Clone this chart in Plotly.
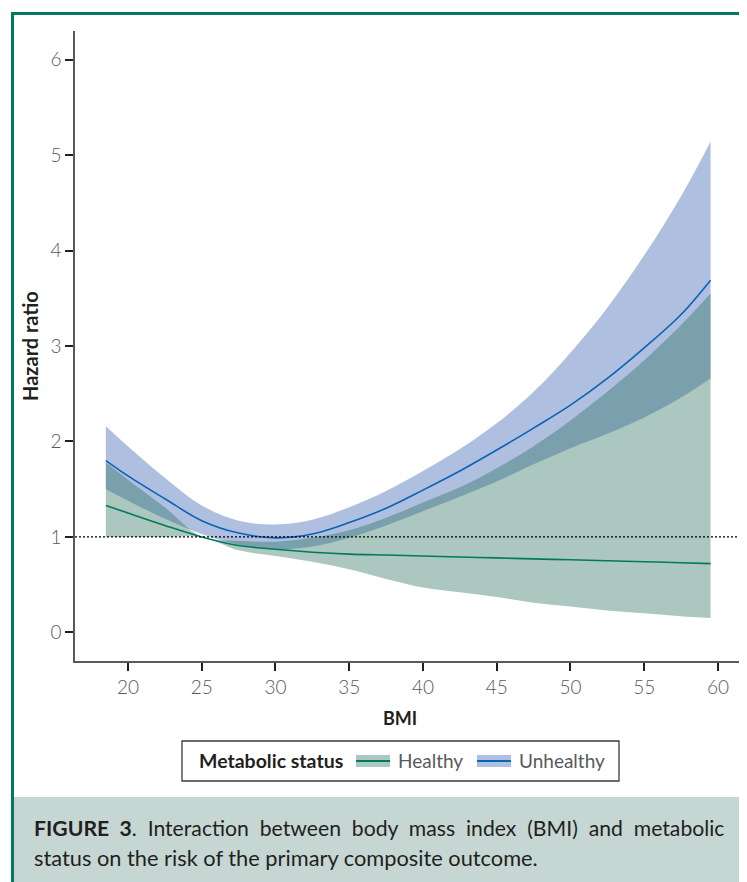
import plotly.graph_objects as go

# ---------------- data ----------------
bmi = [18.5, 20, 22.5, 25, 27.5, 30, 32.5, 35, 37.5, 40, 42.5, 45, 47.5, 50, 52.5, 55, 57.5, 59.5]

healthy_hr = [1.33, 1.25, 1.12, 1.00, 0.91, 0.87, 0.84, 0.82, 0.81, 0.80, 0.79, 0.78, 0.77, 0.76, 0.75, 0.74, 0.73, 0.72]
healthy_lo = [1.00, 1.00, 1.00, 1.00, 0.86, 0.80, 0.74, 0.66, 0.56, 0.47, 0.42, 0.37, 0.31, 0.27, 0.23, 0.20, 0.17, 0.15]
healthy_hi = [1.78, 1.60, 1.31, 1.00, 0.96, 0.95, 0.99, 1.07, 1.20, 1.36, 1.52, 1.72, 1.95, 2.22, 2.52, 2.85, 3.22, 3.55]

unhealthy_hr = [1.80, 1.64, 1.40, 1.17, 1.04, 0.99, 1.03, 1.15, 1.30, 1.49, 1.69, 1.91, 2.14, 2.38, 2.66, 2.98, 3.33, 3.69]
unhealthy_lo = [1.50, 1.38, 1.19, 1.03, 0.92, 0.87, 0.90, 0.99, 1.12, 1.27, 1.42, 1.58, 1.76, 1.93, 2.08, 2.25, 2.46, 2.66]
unhealthy_hi = [2.16, 1.95, 1.62, 1.33, 1.17, 1.13, 1.18, 1.31, 1.48, 1.69, 1.92, 2.19, 2.52, 2.93, 3.40, 3.95, 4.57, 5.14]

x_ticks = [20, 25, 30, 35, 40, 45, 50, 55, 60]
y_ticks = [0, 1, 2, 3, 4, 5, 6]
y_tick_text = ["0", "1", "2", "3", "4", "5", "6"]
reference_hr = 1

series_names = ["Healthy", "Unhealthy"]
legend_title = "Metabolic status"
x_title = "BMI"
y_title = "Hazard ratio"
caption_bold = "FIGURE 3"
caption_line1 = ". Interaction between body mass index (BMI) and metabolic"
caption_line2 = "status on the risk of the primary composite outcome."

# ---------------- styling ----------------
OFF = 8                      # page body margin of the browser
W, H = 747 - OFF, 882 - OFF
L, R, T, B = 75 - OFF, 0, 31 - OFF, 221
PW, PH = W - L - R, H - T - B
FONT = "Lato"
TEAL = "#007a63"
GREEN_LINE = "#007a5e"
BLUE_LINE = "#0b63b5"
BLUE_FILL = "#aebfe0"
GREEN_FILL = "rgba(45,115,98,0.4)"
GREEN_SWATCH = "#abc7c0"
TICK_TXT = "#58595b"
DARK = "#231f20"
NB = "\u00a0"


def fx(p):
    return (p - OFF - L) / PW


def fy(p):
    return (H - B - (p - OFF)) / PH


fig = go.Figure()

# Unhealthy CI band (opaque, drawn first)
fig.add_trace(go.Scatter(x=bmi, y=unhealthy_lo, mode="lines", line=dict(width=0, shape="spline"),
                         showlegend=False, hoverinfo="skip"))
fig.add_trace(go.Scatter(x=bmi, y=unhealthy_hi, mode="lines", line=dict(width=0, shape="spline"),
                         fill="tonexty", fillcolor=BLUE_FILL, showlegend=False, hoverinfo="skip"))
# Healthy CI band (translucent)
fig.add_trace(go.Scatter(x=bmi, y=healthy_lo, mode="lines", line=dict(width=0, shape="spline"),
                         showlegend=False, hoverinfo="skip"))
fig.add_trace(go.Scatter(x=bmi, y=healthy_hi, mode="lines", line=dict(width=0, shape="spline"),
                         fill="tonexty", fillcolor=GREEN_FILL, showlegend=False, hoverinfo="skip"))
# Lines
fig.add_trace(go.Scatter(x=bmi, y=healthy_hr, mode="lines", name=series_names[0],
                         line=dict(color=GREEN_LINE, width=1.6, shape="spline"), showlegend=False))
fig.add_trace(go.Scatter(x=bmi, y=unhealthy_hr, mode="lines", name=series_names[1],
                         line=dict(color=BLUE_LINE, width=1.6, shape="spline"), showlegend=False))

shapes = []
# reference line
shapes.append(dict(type="line", xref="paper", yref="y", x0=0, x1=1, y0=reference_hr, y1=reference_hr,
                   line=dict(color="#000000", width=1.4, dash="2px,2px"), layer="above"))
# frame: green border top and left
shapes.append(dict(type="rect", xref="paper", yref="paper", x0=fx(11), x1=fx(747), y0=fy(12), y1=fy(15),
                   fillcolor=TEAL, line=dict(width=0), layer="above"))
shapes.append(dict(type="rect", xref="paper", yref="paper", x0=fx(11), x1=fx(14), y0=fy(12), y1=fy(882),
                   fillcolor=TEAL, line=dict(width=0), layer="above"))
# caption background
shapes.append(dict(type="rect", xref="paper", yref="paper", x0=fx(14), x1=fx(747), y0=fy(797), y1=fy(882),
                   fillcolor="#c6d7d3", line=dict(width=0), layer="below"))
# legend box
shapes.append(dict(type="rect", xref="paper", yref="paper", x0=fx(182), x1=fx(619), y0=fy(741), y1=fy(781),
                   fillcolor="white", line=dict(color="#3a3a3a", width=1.3)))
# legend swatches
for x0, fill, lc in [(356, GREEN_SWATCH, GREEN_LINE), (477, BLUE_FILL, BLUE_LINE)]:
    shapes.append(dict(type="rect", xref="paper", yref="paper", x0=fx(x0), x1=fx(x0 + 34), y0=fy(755), y1=fy(767),
                       fillcolor=fill, line=dict(width=0)))
    shapes.append(dict(type="line", xref="paper", yref="paper", x0=fx(x0), x1=fx(x0 + 34), y0=fy(761), y1=fy(761),
                       line=dict(color=lc, width=2.2)))

cap1 = (f"<b>{caption_bold}</b>{caption_line1}").replace(" ", " " + NB)
annotations = [
    dict(text=f"<b>{y_title}</b>", xref="paper", yref="paper", x=fx(30), y=fy(346), textangle=-90,
         showarrow=False, font=dict(family=FONT, size=20, color=DARK), xanchor="center", yanchor="middle"),
    dict(text=f"<b>{x_title}</b>", xref="paper", yref="paper", x=fx(400), y=fy(718),
         showarrow=False, font=dict(family=FONT, size=18, color=DARK), xanchor="center", yanchor="middle"),
    dict(text=f"<b>{legend_title}</b>", xref="paper", yref="paper", x=fx(197), y=fy(761),
         showarrow=False, font=dict(family=FONT, size=19.5, color=DARK), xanchor="left", yanchor="middle"),
    dict(text=series_names[0], xref="paper", yref="paper", x=fx(396), y=fy(761),
         showarrow=False, font=dict(family=FONT, size=19, color=TICK_TXT), xanchor="left", yanchor="middle"),
    dict(text=series_names[1], xref="paper", yref="paper", x=fx(517), y=fy(761),
         showarrow=False, font=dict(family=FONT, size=19, color=TICK_TXT), xanchor="left", yanchor="middle"),
    dict(text=cap1, xref="paper", yref="paper", x=fx(32), y=fy(828),
         showarrow=False, font=dict(family=FONT, size=21.2, color=DARK), xanchor="left", yanchor="middle"),
    dict(text=caption_line2, xref="paper", yref="paper", x=fx(32), y=fy(857),
         showarrow=False, font=dict(family=FONT, size=21.8, color=DARK), xanchor="left", yanchor="middle"),
]

axis_common = dict(ticks="outside", ticklen=8, tickwidth=2, tickcolor=DARK, showline=True,
                   linecolor="#58595b", linewidth=1.5,
                   tickfont=dict(family=FONT, size=19, color=TICK_TXT, weight=300),
                   showgrid=False, zeroline=False, fixedrange=True)

fig.update_layout(
    width=W, height=H,
    margin=dict(l=L, r=R, t=T, b=B, pad=0),
    paper_bgcolor="white", plot_bgcolor="white",
    font=dict(family=FONT),
    showlegend=False,
    shapes=shapes,
    annotations=annotations,
    xaxis=dict(range=[16.41, 61.97], tickvals=x_ticks, **axis_common),
    yaxis=dict(range=[-0.30, 6.30], tickvals=y_ticks, ticktext=y_tick_text, **axis_common),
)

fig.write_html("out.html")
